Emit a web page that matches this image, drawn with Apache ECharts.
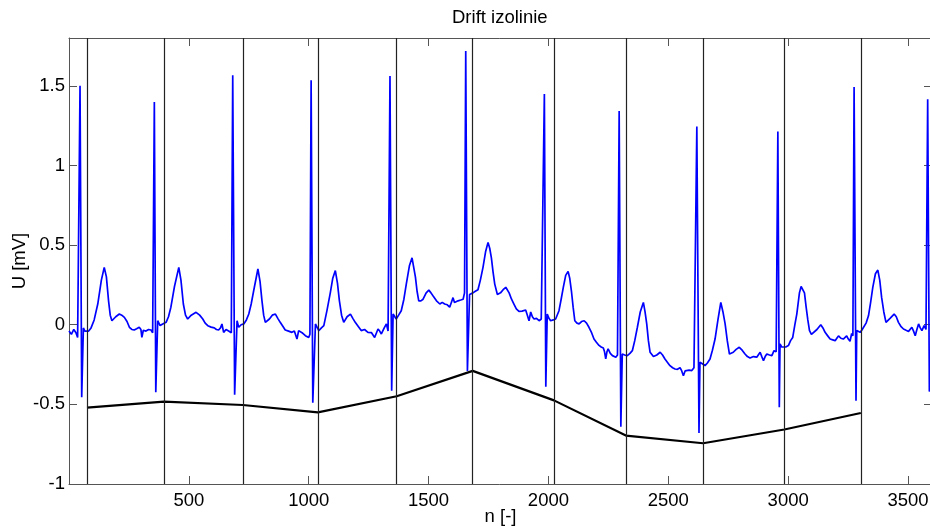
<!DOCTYPE html>
<html>
<head>
<meta charset="utf-8">
<script src="https://cdn.jsdelivr.net/npm/echarts@6/dist/echarts.min.js"></script>
<style>
html,body{margin:0;padding:0;background:#fff;}
#chart{width:930px;height:529px;}
</style>
</head>
<body>
<div id="chart"></div>
<script>
// ---- data ----
const titleText = 'Drift izolinie';
const xName = 'n [-]';
const yName = 'U [mV]';
const xMin = 0, xMax = 3600, xStep = 500;
const yMin = -1, yMax = 1.8, yStep = 0.5;

// isoelectric points (positions of the vertical lines) and drift values there
const isoN   = [75, 396, 725, 1038, 1367, 1684, 2023, 2323, 2645, 2984, 3303];
const driftU = [-0.52, -0.483, -0.504, -0.55, -0.449, -0.29, -0.475, -0.696, -0.744, -0.658, -0.554];

// ECG signal, one array per beat ([n, U])
const beat0 = [[0,-0.04],[10,-0.06],[20,-0.03],[29,-0.05],[36,-0.08],[46,1.50],[53,-0.455],[60,-0.02],[66,-0.04],[74,-0.03],[82,-0.04],[92,-0.02],[105,0.03],[120,0.13],[135,0.28],[147,0.36],[156,0.30],[165,0.15],[172,0.06],[179,0.025],[195,0.05],[210,0.067],[220,0.06],[231,0.046],[242,0.02],[252,-0.016],[262,-0.03],[272,-0.033],[282,-0.025],[293,-0.016],[300,-0.03],[304,-0.08],[310,-0.035],[321,-0.04],[332,-0.03],[342,-0.033],[349,-0.05]];
const beat1 = [[356,1.398],[362,-0.424],[370,0.025],[380,-0.005],[391,0.005],[405,0.015],[415,0.05],[425,0.11],[440,0.24],[458,0.36],[467,0.28],[477,0.13],[486,0.06],[495,0.036],[510,0.06],[530,0.078],[545,0.06],[558,0.036],[568,0.01],[579,-0.006],[593,-0.015],[606,-0.02],[615,-0.03],[624,-0.033],[632,-0.02],[638,0.005],[645,-0.048],[655,-0.03],[666,-0.04],[677,-0.05]];
const beat2 = [[683,1.566],[691,-0.44],[701,0.025],[708,-0.016],[718,0.0],[729,0.005],[740,0.03],[750,0.067],[760,0.13],[770,0.21],[788,0.35],[797,0.27],[805,0.15],[812,0.06],[819,0.015],[836,0.036],[848,0.06],[861,0.067],[871,0.04],[881,0.015],[892,-0.01],[902,-0.033],[916,-0.04],[930,-0.048],[940,-0.04],[951,-0.09],[958,-0.037],[972,-0.05],[986,-0.069],[1000,-0.08],[1005,-0.06]];
const beat3 = [[1010,1.534],[1017,-0.49],[1028,0.005],[1042,-0.037],[1053,-0.02],[1063,-0.006],[1076,0.088],[1090,0.2],[1100,0.29],[1111,0.34],[1120,0.26],[1128,0.15],[1137,0.06],[1146,0.015],[1160,0.05],[1174,0.067],[1184,0.04],[1194,0.015],[1206,-0.01],[1219,-0.037],[1233,-0.03],[1247,-0.048],[1262,-0.05],[1275,-0.08],[1289,-0.027],[1296,-0.04],[1303,-0.058],[1315,-0.02],[1324,0.005],[1331,-0.04]];
const beat4 = [[1339,1.561],[1346,-0.414],[1352,0.067],[1365,0.036],[1375,0.06],[1386,0.088],[1397,0.16],[1407,0.255],[1420,0.37],[1431,0.42],[1445,0.30],[1452,0.21],[1459,0.15],[1468,0.15],[1477,0.16],[1490,0.2],[1501,0.217],[1510,0.2],[1519,0.18],[1533,0.15],[1547,0.13],[1557,0.14],[1567,0.13],[1578,0.125],[1588,0.11],[1595,0.14],[1602,0.17],[1608,0.14],[1623,0.15],[1634,0.155],[1644,0.16],[1650,0.2]];
const beat5 = [[1655,1.718],[1662,-0.29],[1671,0.19],[1678,0.19],[1685,0.20],[1695,0.21],[1706,0.22],[1716,0.28],[1727,0.36],[1738,0.46],[1748,0.517],[1755,0.48],[1762,0.42],[1769,0.33],[1776,0.255],[1787,0.19],[1800,0.2],[1811,0.22],[1822,0.235],[1829,0.23],[1836,0.20],[1846,0.16],[1856,0.13],[1866,0.1],[1877,0.084],[1890,0.085],[1905,0.092],[1912,0.06],[1919,0.025],[1926,0.08],[1933,0.05],[1940,0.036],[1950,0.04],[1961,0.025],[1970,0.036],[1977,0.03]];
const beat6 = [[1983,1.448],[1989,-0.389],[1995,0.067],[2002,0.04],[2009,0.025],[2020,0.03],[2030,0.036],[2044,0.088],[2053,0.16],[2062,0.234],[2072,0.31],[2082,0.335],[2089,0.29],[2096,0.21],[2103,0.11],[2110,0.025],[2119,0.01],[2128,0.005],[2138,0.02],[2149,0.025],[2159,0.01],[2169,-0.016],[2180,-0.05],[2190,-0.09],[2200,-0.11],[2211,-0.13],[2220,-0.14],[2229,-0.146],[2234,-0.17],[2239,-0.215],[2244,-0.17],[2249,-0.152],[2258,-0.18],[2267,-0.194],[2274,-0.2],[2281,-0.204],[2288,-0.19]];
const beat7 = [[2295,1.342],[2302,-0.64],[2308,-0.184],[2318,-0.19],[2329,-0.194],[2340,-0.18],[2350,-0.163],[2360,-0.1],[2371,-0.016],[2383,0.08],[2396,0.14],[2403,0.08],[2410,0.005],[2417,-0.1],[2424,-0.173],[2438,-0.2],[2452,-0.19],[2466,-0.173],[2476,-0.19],[2486,-0.215],[2496,-0.235],[2507,-0.257],[2518,-0.27],[2528,-0.278],[2538,-0.28],[2549,-0.27],[2556,-0.29],[2563,-0.32],[2570,-0.29],[2577,-0.278],[2587,-0.285],[2598,-0.288],[2607,-0.27],[2613,-0.26]];
const beat8 = [[2619,1.244],[2628,-0.68],[2632,-0.236],[2642,-0.245],[2653,-0.257],[2663,-0.24],[2674,-0.215],[2684,-0.16],[2695,-0.09],[2707,0.03],[2719,0.14],[2728,0.08],[2737,0.005],[2746,-0.1],[2755,-0.184],[2771,-0.173],[2783,-0.155],[2796,-0.142],[2808,-0.16],[2820,-0.184],[2830,-0.2],[2841,-0.209],[2855,-0.2],[2869,-0.204],[2883,-0.173],[2890,-0.2],[2897,-0.226],[2904,-0.2],[2911,-0.184],[2922,-0.19],[2932,-0.194],[2941,-0.163],[2950,-0.17]];
const beat9 = [[2957,1.213],[2963,-0.518],[2966,-0.121],[2973,-0.14],[2980,-0.152],[2990,-0.14],[3001,-0.131],[3010,-0.1],[3019,-0.08],[3028,0.0],[3036,0.067],[3047,0.2],[3054,0.24],[3061,0.25],[3068,0.2],[3075,0.11],[3082,0.03],[3089,-0.037],[3097,-0.06],[3105,-0.069],[3120,-0.03],[3136,0.0],[3145,-0.02],[3154,-0.048],[3165,-0.07],[3175,-0.09],[3186,-0.095],[3196,-0.1],[3203,-0.085],[3210,-0.07],[3220,-0.085],[3230,-0.09],[3237,-0.08],[3244,-0.07],[3251,-0.09],[3258,-0.104],[3265,-0.055],[3270,-0.07]];
const beat10 = [[3275,1.492],[3283,-0.477],[3286,-0.037],[3293,-0.04],[3300,-0.048],[3307,-0.035],[3314,-0.027],[3325,0.01],[3335,0.056],[3344,0.14],[3353,0.234],[3364,0.32],[3374,0.343],[3382,0.28],[3390,0.17],[3399,0.08],[3408,0.015],[3425,0.04],[3442,0.067],[3451,0.05],[3460,0.015],[3470,-0.01],[3481,-0.027],[3492,-0.035],[3502,-0.042],[3509,-0.03],[3516,-0.016],[3523,-0.04],[3530,-0.069],[3537,-0.03],[3544,0.005],[3551,-0.02],[3558,-0.037],[3567,-0.006],[3575,-0.03]];
const beat11 = [[3582,1.415],[3589,-0.42],[3598,-0.1]];

// ---- build chart ----
const ecg = [].concat(beat0, beat1, beat2, beat3, beat4, beat5, beat6, beat7, beat8, beat9, beat10, beat11);
const drift = isoN.map((n, i) => [n, driftU[i]]);

const FONT = "'Liberation Sans', Arial, Helvetica, sans-serif";
const FS = 18.5;
const axisCol = '#555';
const plain = v => String(v);

const chart = echarts.init(document.getElementById('chart'), null, {renderer: 'canvas'});

function xAx(pos, labels) {
  return {
    type: 'value', position: pos, min: xMin, max: xMax, interval: xStep,
    name: labels ? xName : '', nameLocation: 'middle', nameGap: 23, nameMoveOverlap: false,
    nameTextStyle: {fontFamily: FONT, fontSize: FS, color: '#000'},
    axisLine: {show: true, onZero: false, lineStyle: {color: axisCol, width: 1}},
    axisTick: {show: true, inside: true, length: 8, lineStyle: {color: axisCol, width: 1}},
    axisLabel: {show: labels, margin: 7, fontFamily: FONT, fontSize: FS, color: '#000', showMinLabel: false, showMaxLabel: false, formatter: plain},
    splitLine: {show: false}
  };
}
function yAx(pos, labels) {
  return {
    type: 'value', position: pos, min: yMin, max: yMax, interval: yStep,
    name: labels ? yName : '', nameLocation: 'middle', nameGap: 40, nameRotate: 90, nameMoveOverlap: false,
    nameTextStyle: {fontFamily: FONT, fontSize: FS, color: '#000'},
    axisLine: {show: true, onZero: false, lineStyle: {color: axisCol, width: 1}},
    axisTick: {show: true, inside: true, length: 8, lineStyle: {color: axisCol, width: 1}},
    axisLabel: {show: labels, margin: 4, fontFamily: FONT, fontSize: FS, color: '#000', showMaxLabel: false, formatter: plain},
    splitLine: {show: false}
  };
}

chart.setOption({
  animation: false,
  backgroundColor: '#fff',
  title: {
    text: titleText, left: 452, top: 8, padding: 0,
    textStyle: {fontFamily: FONT, fontSize: FS, fontWeight: 'normal', color: '#000'}
  },
  grid: {left: 69, top: 38, width: 863, height: 446, containLabel: false, outerBoundsMode: 'none'},
  xAxis: [xAx('bottom', true), xAx('top', false)],
  yAxis: [yAx('left', true), yAx('right', false)],
  series: [
    {
      type: 'line', name: 'ecg', data: ecg, xAxisIndex: 0, yAxisIndex: 0,
      showSymbol: false, symbol: 'none', smooth: false, sampling: null,
      lineStyle: {color: '#0000ff', width: 1.7}, z: 2
    },
    {
      type: 'line', name: 'drift', data: drift, xAxisIndex: 0, yAxisIndex: 0,
      showSymbol: false, symbol: 'none',
      lineStyle: {color: '#000', width: 2.2}, z: 3,
      markLine: {
        silent: true, symbol: ['none', 'none'], label: {show: false},
        lineStyle: {color: '#222', width: 1.2, type: 'solid'},
        emphasis: {disabled: true},
        data: isoN.map(n => ({xAxis: n}))
      }
    }
  ]
});
</script>
</body>
</html>
